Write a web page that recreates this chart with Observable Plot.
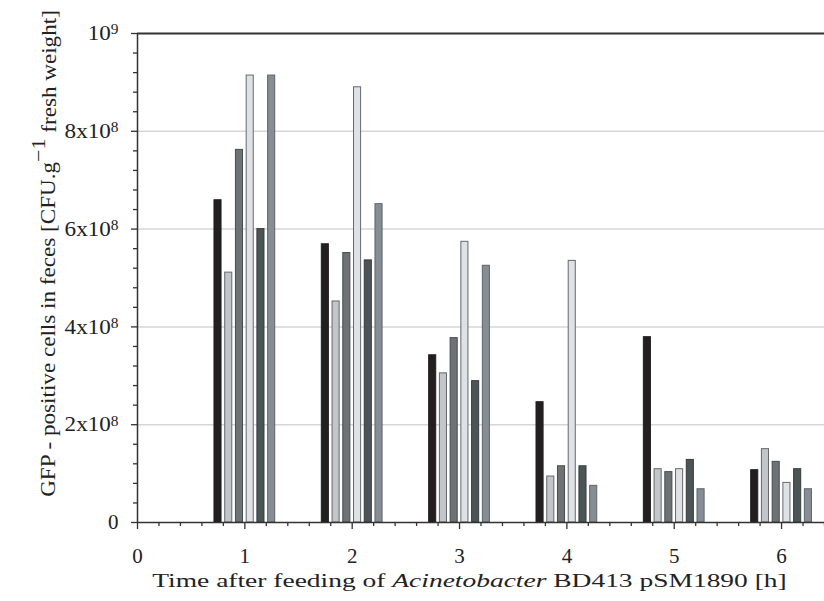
<!DOCTYPE html>
<html><head><meta charset="utf-8">
<script src="https://cdn.jsdelivr.net/npm/d3@7"></script>
<script src="https://cdn.jsdelivr.net/npm/@observablehq/plot@0.6"></script>
<style>body{margin:0;background:#fff}</style>
</head><body><div id="chart"></div>
<script>
// Times (h) for bar groups
const times = [1, 2, 3, 4, 5, 6];
// Six series, CFU per g fresh weight
const seriesA = [6.59e8, 5.69e8, 3.42e8, 2.46e8, 3.79e8, 1.07e8];
const seriesB = [5.11e8, 4.52e8, 3.05e8, 0.94e8, 1.09e8, 1.50e8];
const seriesC = [7.62e8, 5.51e8, 3.77e8, 1.15e8, 1.03e8, 1.24e8];
const seriesD = [9.14e8, 8.90e8, 5.74e8, 5.35e8, 1.09e8, 0.81e8];
const seriesE = [6.00e8, 5.36e8, 2.89e8, 1.15e8, 1.28e8, 1.09e8];
const seriesF = [9.14e8, 6.51e8, 5.25e8, 0.75e8, 0.68e8, 0.68e8];
const seriesList = [seriesA, seriesB, seriesC, seriesD, seriesE, seriesF];
const seriesOffset = [-0.25, -0.15, -0.05, 0.05, 0.15, 0.25];
const fills   = ["#231f20", "#c2c5ca", "#6d7375", "#dee1e5", "#4c5556", "#868d94"];
const strokes = ["#231f20", "#65686b", "#474c4e", "#66696c", "#363c3d", "#5d6369"];
const barWidth = 0.066;
// Tick values
const xMajor = [0, 1, 2, 3, 4, 5, 6];
const xMinor = d3.range(0, 33).map(i => i * 0.2).filter(v => Math.abs(v - Math.round(v)) > 1e-6);
const yMajor = [0, 2e8, 4e8, 6e8, 8e8, 1e9];
const yMinor = d3.range(0, 26).map(i => i * 4e7).filter(v => Math.abs(v / 2e8 - Math.round(v / 2e8)) > 1e-6);
const yGrid = [2e8, 4e8, 6e8, 8e8];

const rows = [];
seriesList.forEach((vals, s) => vals.forEach((v, i) => rows.push({
  series: s, time: times[i], value: v,
  x1: times[i] + seriesOffset[s] - barWidth / 2,
  x2: times[i] + seriesOffset[s] + barWidth / 2
})));

const yfmt = d => d === 0 ? "0" : d === 1e9 ? "10|9" : `${d / 1e8}x10|8`;
const FONT = '"Liberation Serif", "Times New Roman", serif';

const chart = Plot.plot({
  width: 824, height: 601,
  marginLeft: 137, marginRight: 0, marginTop: 33, marginBottom: 79,
  style: {fontFamily: FONT, fontSize: "21px", background: "#fff", color: "#222"},
  x: {domain: [0, 6.4]},
  y: {domain: [0, 1e9]},
  marks: [
    Plot.ruleY(yGrid, {stroke: "#d6d6d6", strokeWidth: 1.5}),
    Plot.rectY(rows, {x1: "x1", x2: "x2", y1: 0, y2: "value",
      fill: d => fills[d.series], stroke: d => strokes[d.series], strokeWidth: 1}),
    Plot.axisX({ticks: xMajor, tickSize: 7, tickPadding: 19, fontSize: 21, tickFormat: d => String(d), label: null, stroke: "#333", strokeWidth: 1.3, fill: "#222"}),
    Plot.axisX({ticks: xMinor, tickSize: 4, tickFormat: () => "", label: null, stroke: "#333", strokeWidth: 1.3}),
    Plot.axisY({ticks: yMajor, tickSize: 6, tickPadding: 13, fontSize: 21, tickFormat: yfmt, label: null, stroke: "#333", strokeWidth: 1.3, fill: "#222"}),
    Plot.axisY({ticks: yMinor, tickSize: 4, tickFormat: () => "", label: null, stroke: "#333", strokeWidth: 1.3}),
    Plot.ruleX([0], {stroke: "#333", strokeWidth: 1.5}),
    Plot.ruleY([0], {stroke: "#333", strokeWidth: 1.5}),
    Plot.ruleY([1e9], {stroke: "#333", strokeWidth: 2})
  ]
});

const svg = d3.select(chart);
svg.style("font-family", FONT);
svg.selectAll("text").each(function() {
  const t = d3.select(this);
  t.style("font-family", FONT).style("font-size", "21px").style("font-variant", "normal");
  const s = t.text();
  if (s.includes("|")) {
    const [base, sup] = s.split("|");
    t.text("");
    t.append("tspan").text(base);
    t.append("tspan").attr("dy", "-0.42em").style("font-size", "14px").text(sup);
  }
});
document.getElementById("chart").appendChild(chart);

// Slight horizontal stretch of the y tick labels, like the reference
svg.selectAll("g[aria-label='y-axis tick label'] text").each(function() {
  const len = this.getComputedTextLength();
  if (len > 15) d3.select(this).attr("textLength", len * 1.1).attr("lengthAdjust", "spacingAndGlyphs");
});

// Axis titles (stretched horizontally like the reference)
const xt = svg.append("text").attr("text-anchor", "middle")
  .style("font-size", "19px").style("font-family", FONT).attr("fill", "#222");
xt.append("tspan").text("Time after feeding of ");
xt.append("tspan").attr("font-style", "italic").text("Acinetobacter");
xt.append("tspan").text(" BD413 pSM1890 [h]");
const xw = xt.node().getComputedTextLength();
xt.attr("transform", `translate(469.5,587) scale(${635 / xw},1)`);

const yt = svg.append("text").attr("text-anchor", "middle")
  .style("font-size", "20px").style("font-family", FONT).attr("fill", "#222");
yt.append("tspan").text("GFP - positive cells in feces [CFU.g");
yt.append("tspan").attr("dy", "-0.55em").style("font-size", "19px").text("\u22121");
yt.append("tspan").attr("dy", "0.55em").text(" fresh weight]");
const yw = yt.node().getComputedTextLength();
yt.attr("transform", `translate(55,253.5) rotate(-90) scale(${487 / yw},1)`);
</script></body></html>
